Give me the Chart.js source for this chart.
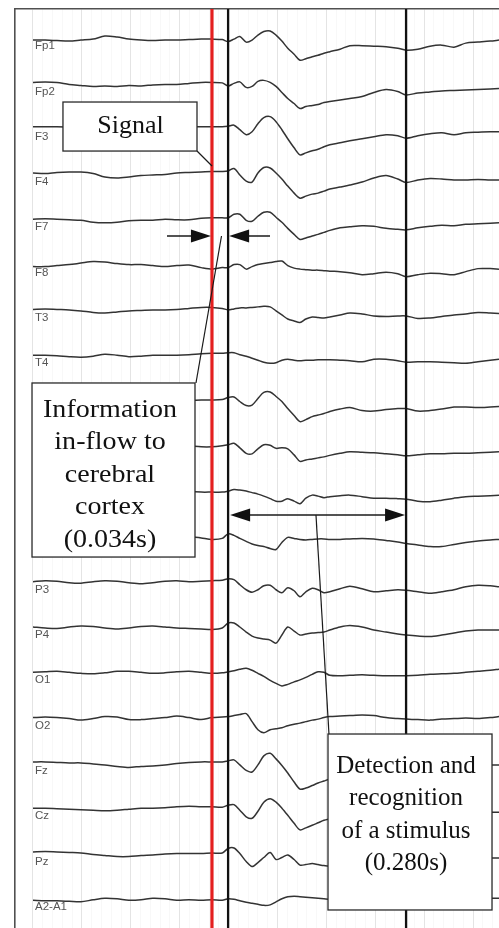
<!DOCTYPE html>
<html>
<head>
<meta charset="utf-8">
<script src="https://cdn.jsdelivr.net/npm/chart.js@4.4.1/dist/chart.umd.min.js"></script>
<style>
html,body{margin:0;padding:0;background:#fff;overflow:hidden}
canvas{display:block}
</style>
</head>
<body>
<canvas id="c" width="499" height="928"></canvas>
<script>
// ---------------- DATA ----------------
const channels = ['Fp1','Fp2','F3','F4','F7','F8','T3','T4','C3','C4','T5','T6','P3','P4','O1','O2','Fz','Cz','Pz','A2-A1'];

// sample times (s)
const times = [
  0.000,0.025,0.049,0.074,0.098,0.123,0.147,0.172,0.196,0.221,0.245,0.270,0.294,0.319,0.344,0.366,0.387,0.399,
  0.411,0.423,0.436,0.448,0.460,0.472,0.485,0.497,0.509,0.521,0.534,0.546,0.558,0.571,0.583,0.595,0.607,0.628,
  0.648,0.673,0.697,0.722,0.746,0.763,0.787,0.812,0.836,0.861,0.885,0.910,0.935,0.953
];

// amplitudes per channel (arbitrary units, up = positive)
const ampFp1 = [
  -2,-2,-2.5,-3,-2,-1,2,1,-1,-2,-2.5,-2,-2,-1.5,-1,-1,-1.5,-3.5,
  -1,1.5,-4,-2,3,6.5,7,3,-3,-10,-16,-22,-20.5,-18.5,-17,-15,-13.5,-11,
  -7.5,-7.5,-8,-8.5,-10,-12,-11,-8,-7,-9,-5,-4,-3,-2
];
const ampFp2 = [
  1,1.5,1,-1,-2,-3,-2.5,-3,-2,-2.5,-1.5,-1,-1,0,1,1,0.5,-2.5,
  0,1.5,-4,-3,2,3,1,-3,-9,-15,-20,-25,-23,-22,-21,-19,-18,-16.5,
  -15,-13,-9,-6,-8,-11.5,-9.5,-8.5,-7.5,-7,-6.5,-6,-5.5,-5
];
const ampF3 = [
  2,2,2,1.5,1,0.5,1,1.5,2,1.5,1,1.5,2,2,2,2,2,2.5,
  3.5,-1,-6,-3,5,11,12,7,-1,-10,-19,-26,-24,-22,-20.5,-18,-16,-14,
  -12,-10,-8,-6,-7,-9.5,-7,-5,-4,-6,-4,-3.5,-3,-3
];
const ampF4 = [
  1,0.5,1.5,2,2,0.5,-3,-4,-3,-1.5,-1,-0.5,1,1.5,2,2.5,2.5,3,
  5.5,-1,-7,-8,1,6.5,6,1,-5,-12,-19,-24,-22,-20,-19,-17,-15,-13,
  -11,-8,-4,-1.5,-5,-8.5,-6,-4.5,-5,-6,-6,-5.5,-6,-6
];
const ampF7 = [
  0,0.5,0,-0.5,-1,-3,-3.5,-3,-1.5,-1,-1,0,-0.5,-0.5,1,1.5,1.5,1.5,
  5,5,-1,-2,3,7,7,2,-3,-9,-15,-20,-18.5,-16.5,-15,-13,-11,-8.5,
  -7.5,-6.5,-7,-9,-10,-10.5,-8.5,-7,-6,-6.5,-5,-4.5,-4,-3.5
];
const ampF8 = [
  -2,-2,-1,0,1.5,3,2.5,1,0,0,-1,-2,-1,-0.5,-3,-4.5,-3,-3,
  0,0,-4.5,-2,0,1,2,3,3.5,-1,-3.5,-4.5,-5,-5.5,-5.5,-6,-6.5,-7,
  -8,-10,-9,-7.5,-9,-12,-10,-8.5,-9,-10,-7,-4,-4,-4.5
];
const ampT3 = [
  0.5,1,0.5,0,-1,-2.5,-3,-2,-1,-0.5,0,0,0.5,1.5,2.5,2.5,1.5,0,
  1,2,2,2.5,3,3.5,3,-1,-5,-9,-11,-12.5,-9,-7,-7.5,-8,-7,-5,
  -3,-4,-6,-6.5,-6,-6,-8.5,-8,-6.5,-5,-4,-2.5,-3,-3.5
];
const ampT4 = [
  0,0,-0.5,-1.5,-2,-1,1,0,-1.5,-1,0,0,0,0.5,1.5,2,2,2.5,
  2.5,0.5,-1,-3,-5,-7,-8,-7.5,-5,-4,-5,-5.5,-5,-5,-4.5,-4.5,-4.5,-5,
  -5.5,-6.5,-4,-4,-5.5,-7,-6.5,-6.5,-7,-7.5,-8,-6.5,-5,-4
];
const ampC3 = [
  1,0,-1,-0.5,1,2,1,-1,-2,-1,0,1,0.5,0,0.5,0.5,1,3,
  3.5,-1,-5,-4.5,2,8,8.5,4,-1,-8,-15,-21,-19,-16,-14.5,-13,-11,-8.5,
  -7,-10,-10.5,-9,-8,-8,-10.5,-10,-8.5,-6.5,-6.5,-7,-6.5,-6
];
const ampC4 = [
  0,1,0.5,-1,-2,-1,0.5,1,0,-1,-1.5,-0.5,0.5,0,-1,-1,0,1,
  2.5,-2,-7.5,-8,-3,1,0.5,-2.5,-2,-3,-9,-15.5,-14,-13,-12,-11,-9.5,-7.5,
  -6,-6.5,-7,-8,-9,-10,-9,-8,-8,-7.5,-7.5,-7,-6.5,-6
];
const ampT5 = [
  0.5,-0.5,-1.5,-1,0.5,1.5,1,0,-1,-0.5,0.5,1,0.5,-0.5,-1,-1,-1,0,
  1.5,1,0,-1.5,-3,-5,-7.5,-10,-10,-7.5,-10,-12.5,-7,-4,-5,-6.5,-5.5,-4.5,
  -4,-5.5,-7,-7,-7.5,-8,-10,-10.5,-9,-7,-5.5,-5,-4.5,-4
];
const ampT6 = [
  -1,0,1,0.5,-0.5,-1.5,-1,0.5,1,0,-1,-0.5,0.5,0,-1.5,-3,-2,2.5,
  1,-2,-5,-7.5,-9,-10,-12,-13,-6,-1,-2,-3,-3.5,-3,-2.5,-2.5,-3,-3,
  -2.5,-2,-2.5,-4,-5.5,-7,-8.5,-10,-10,-8,-6,-4.5,-3.5,-3
];
const ampP3 = [
  0,1,0.5,-1,-1.5,0,1,0.5,-1,-2,-1,0.5,1,0,0.5,1,1.5,3,
  2,-3,-8,-10.5,-8,-4,-3.5,-8,-11,-6,-9,-15,-10,-6.5,-8,-11,-10,-7,
  -4.5,-7,-10,-9,-8,-8.5,-10,-11.5,-10,-8,-5,-3.5,-4,-5
];
const ampP4 = [
  0,-1,-1.5,0,1,0.5,-1,-2,-1,0.5,1,0,-1,-1.5,-2,-2.5,-1,4,
  4,0,-5,-9,-11,-12,-13,-16,-8,0,-4,-8,-7,-6,-5.5,-5,-3,0,
  1.5,0,-3,-5,-7,-8,-9,-9.5,-8,-6,-4,-3,-3,-3
];
const ampO1 = [
  0,0.5,1,0,-1,-1.5,-0.5,1,1,0,-1,-0.5,0.5,1,0,-1,-0.5,0.5,
  1.5,3,4,2,-1,-4,-8,-11,-13.5,-12,-9.5,-7.5,-5,-2,0.5,0,-3,-3.5,
  -3,-2.5,-3,-3.5,-3.5,-3.5,-3,-2,-1.5,-1,0,1,2,3
];
const ampO2 = [
  0,0.5,0,-1,-2.5,-1,1,0.5,-2,-2,-1,0,1.5,0,-2,0,0.5,1,
  2,3,4,-4,-12,-15,-12,-11,-10,-8,-6.5,-5.5,-4,-2.5,-1.5,0,1,1.5,
  2,2.5,2,0,-1,-1.5,-2,-2.5,-1.5,-1,-0.5,-1,0,1
];
const ampFz = [
  1,1,0.5,0,0,-1,-2,-3.5,-4.5,-3.5,-3,-2,-0.5,0.5,1,1,1,2,
  3,-2,-7.5,-9,-2,7,9.5,4,-2.5,-10,-19,-26,-25,-22.5,-20,-18,-16,-14,
  -12,-10,-8,-6,-5,-5,-5,-4,-4,-3.5,-3,-2.5,-2,-2
];
const ampCz = [
  0,0,-0.5,-1,-1.5,-2,-2.5,-2,-1,0,0,0.5,1.5,2,1.5,1.5,1,3,
  3.5,-2,-8.5,-10,-3,6,9.5,6,0,-7,-15,-21.5,-19.5,-17,-14.5,-12,-10.5,-8,
  -7,-6,-5,-5,-5,-5,-5,-4.5,-4.5,-4,-4,-4,-4,-4
];
const ampPz = [
  1.5,2,1.5,1,0.5,-1,-2,-3,-3,-2,-1.5,-0.5,0,0,0,0.5,0.5,5,
  5.5,0,-8,-13,-9,-4,1,-6,-4,-1.5,-6,-11.5,-11,-10,-11,-12,-12.5,-10,
  -8,-7,-6,-6,-5.5,-5.5,-5,-5,-5,-5,-4.5,-4.5,-4.5,-4.5
];
const ampA2A1 = [
  -1.5,-2,-2,-2.5,-3,-1,0.5,0,-1.5,-1,0.5,0,-1.5,-1,-1.5,-1,-1.5,0,
  -0.5,-2,-3.5,-4.5,-5.5,-6.5,-6,-3,0,2,2.5,2,1.5,1,0.5,0,-0.5,-1,
  -1,-0.5,0,0,0.5,0.5,0,0,0,0,0.5,0.5,0.5,0.5
];

const traces = [ampFp1,ampFp2,ampF3,ampF4,ampF7,ampF8,ampT3,ampT4,ampC3,ampC4,
                ampT5,ampT6,ampP3,ampP4,ampO1,ampO2,ampFz,ampCz,ampPz,ampA2A1];

const channelSpacing = 45;                 // offset between channels
const signalTime = 0.366;                  // stimulus signal (red line)
const cortexTime = 0.399;                  // arrival at cortex (+0.034 s)
const detectionTime = 0.763;               // detection / recognition end
const gridTimes = [0,0.1,0.2,0.3,0.4,0.5,0.6,0.7,0.8,0.9];

const xMin = -0.0368, xMax = 0.953;
const yMin = -29.0, yMax = 883.9;

// ---------------- ANNOTATIONS (data coordinates) ----------------
const notes = [
  { lines:['Signal'], box:[0.0613,0.3354,791.5,742.8], tx:0.1994, ty:760.7, size:26, stretch:1.0, lh:32.5 },
  { lines:['Information','in-flow to','cerebral','cortex','(0.034s)'], box:[-0.002,0.3313,512.4,339.5], tx:0.1575, ty:478.9, size:25.5, stretch:1.1, lh:32.5 },
  { lines:['Detection and','recognition','of a stimulus','(0.280s)'], box:[0.6033,0.9387,163.7,-11.1], tx:0.7628, ty:125.3, size:25, stretch:1.0, lh:32.5 }
];
const leaders = [
  [0.3354,742.8, 0.3661,727.9],
  [0.3333,512.4, 0.3855,658.4],
  [0.5787,381.3, 0.6053,163.7]
];
const arrowLevel = 658.4, arrowLeftTail = 0.274, arrowRightTail = 0.4847;
const spanLevel = 381.3;

// ---------------- CHART ----------------
const datasets = traces.map((amp, i) => ({
  label: channels[i],
  data: times.map((t, k) => ({ x: t, y: (channels.length - 1 - i) * channelSpacing + amp[k] })),
  borderColor: '#333333',
  borderWidth: 1.5,
  pointRadius: 0,
  tension: 0.3,
  fill: false,
  order: 2
}));
[[signalTime,'#e41f1f',3.2],[cortexTime,'#111111',2.3],[detectionTime,'#111111',2.3]].forEach(([t,c,w]) => {
  datasets.push({
    label: 'marker',
    data: [{x:t,y:yMin},{x:t,y:yMax}],
    borderColor: c, borderWidth: w, pointRadius: 0, fill: false, order: 0
  });
});

const minorTicks = [];
for (let k = 1; k < 50; k++) { if (k % 5) minorTicks.push(k * 0.02); }

function arrowHead(ctx, tipX, tipY, dir) {
  ctx.beginPath();
  ctx.moveTo(tipX, tipY);
  ctx.lineTo(tipX - dir * 20, tipY - 6.5);
  ctx.lineTo(tipX - dir * 20, tipY + 6.5);
  ctx.closePath();
  ctx.fill();
}

const annotPlugin = {
  id: 'annot',
  afterDatasetsDraw(chart) {
    const { ctx } = chart;
    const xs = chart.scales.x, ys = chart.scales.y;
    const X = v => xs.getPixelForValue(v), Y = v => ys.getPixelForValue(v);
    ctx.save();
    ctx.strokeStyle = '#1a1a1a';
    ctx.fillStyle = '#111';
    ctx.lineWidth = 1.2;
    leaders.forEach(([a,b,c,d]) => {
      ctx.beginPath(); ctx.moveTo(X(a), Y(b)); ctx.lineTo(X(c), Y(d)); ctx.stroke();
    });
    // arrows pointing at the 0.034 s gap
    const ay = Y(arrowLevel);
    ctx.lineWidth = 1.4;
    ctx.beginPath(); ctx.moveTo(X(arrowLeftTail), ay); ctx.lineTo(X(signalTime) - 10, ay); ctx.stroke();
    arrowHead(ctx, X(signalTime) - 1, ay, 1);
    ctx.beginPath(); ctx.moveTo(X(arrowRightTail), ay); ctx.lineTo(X(cortexTime) + 10, ay); ctx.stroke();
    arrowHead(ctx, X(cortexTime) + 1, ay, -1);
    // double arrow for 0.280 s span
    const sy = Y(spanLevel);
    ctx.beginPath(); ctx.moveTo(X(cortexTime) + 10, sy); ctx.lineTo(X(detectionTime) - 10, sy); ctx.stroke();
    arrowHead(ctx, X(cortexTime) + 2, sy, -1);
    arrowHead(ctx, X(detectionTime) - 1, sy, 1);
    // boxes with text
    notes.forEach(n => {
      const x0 = X(n.box[0]), x1 = X(n.box[1]), y0 = Y(n.box[2]), y1 = Y(n.box[3]);
      ctx.fillStyle = '#ffffff';
      ctx.fillRect(x0, y0, x1 - x0, y1 - y0);
      ctx.strokeStyle = '#2a2a2a';
      ctx.lineWidth = 1.3;
      ctx.strokeRect(x0, y0, x1 - x0, y1 - y0);
      ctx.fillStyle = '#111';
      ctx.font = n.size + 'px "Liberation Serif", "Times New Roman", serif';
      ctx.textAlign = 'center';
      ctx.textBaseline = 'alphabetic';
      n.lines.forEach((line, i) => {
        ctx.save();
        ctx.translate(X(n.tx), Y(n.ty) + i * n.lh);
        ctx.scale(n.stretch, 1);
        ctx.fillText(line, 0, 0);
        ctx.restore();
      });
    });
    ctx.restore();
  }
};

new Chart(document.getElementById('c'), {
  type: 'line',
  data: { datasets },
  options: {
    responsive: false,
    animation: false,
    devicePixelRatio: 1,
    layout: { padding: { left: 15, top: 9, right: 0, bottom: 0 } },
    plugins: { legend: { display: false }, tooltip: { enabled: false } },
    scales: {
      x: {
        type: 'linear', position: 'top', min: xMin, max: xMax,
        afterBuildTicks: s => { s.ticks = gridTimes.map(v => ({ value: v })); },
        afterFit: s => { s.height = 0; s.paddingLeft = 0; s.paddingRight = 0; },
        ticks: { display: false },
        grid: { color: '#e4e4e4', lineWidth: 1, drawTicks: false },
        border: { display: true, color: '#505050', width: 1.6 }
      },
      xMinor: {
        type: 'linear', position: 'top', min: xMin, max: xMax,
        afterBuildTicks: s => { s.ticks = minorTicks.map(v => ({ value: v })); },
        afterFit: s => { s.height = 0; s.paddingLeft = 0; s.paddingRight = 0; },
        ticks: { display: false },
        grid: { color: '#f8f8f8', lineWidth: 1, drawTicks: false },
        border: { display: false }
      },
      y: {
        type: 'linear', position: 'left', min: yMin, max: yMax,
        afterBuildTicks: s => { s.ticks = channels.map((c, i) => ({ value: (channels.length - 1 - i) * channelSpacing })); },
        afterFit: s => { s.width = 0; s.paddingTop = 0; s.paddingBottom = 0; },
        ticks: {
          mirror: true, padding: 20, labelOffset: 8, autoSkip: false,
          color: '#555', font: { family: 'Liberation Sans', size: 11.5 },
          callback: (v, i) => channels[i]
        },
        grid: { display: false },
        border: { display: true, color: '#505050', width: 1.6 }
      }
    }
  },
  plugins: [annotPlugin]
});
</script>
</body>
</html>
